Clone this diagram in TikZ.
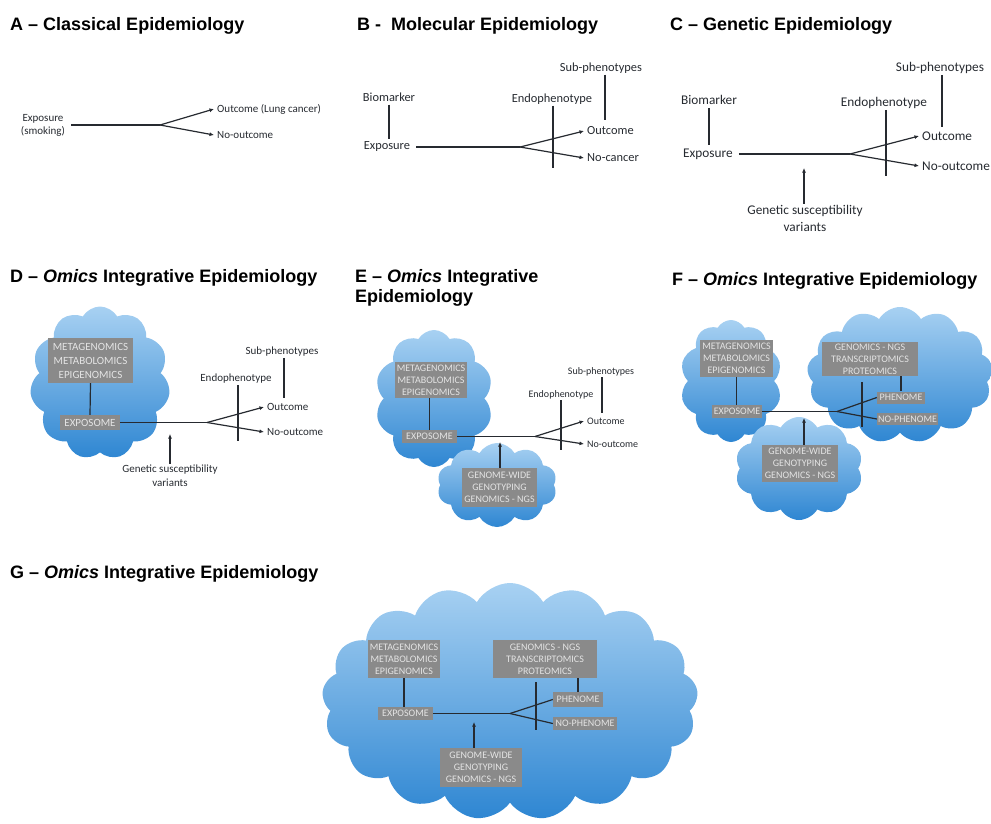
\documentclass[tikz,border=0pt]{standalone}
\usepackage{fontspec}
\setmainfont{Carlito}
\newfontfamily\titlefont{Liberation Sans}
\usetikzlibrary{arrows.meta,shapes.symbols}
\definecolor{cloudtop}{HTML}{A8D1F2}
\definecolor{cloudbot}{HTML}{2E86D2}
\definecolor{boxgray}{HTML}{8A8A8A}
\definecolor{boxtext}{HTML}{E4E4E4}
\definecolor{ink}{HTML}{262A30}
\begin{document}
\begin{tikzpicture}[x=1pt,y=-1pt,
  ttl/.style={anchor=base west,inner sep=0pt,font=\titlefont\bfseries\fontsize{18}{20}\selectfont},
  lbl/.style={inner xsep=3pt,inner ysep=1pt,text=ink},
  fa/.style={font=\fontsize{11}{13}\selectfont},
  fb/.style={font=\fontsize{12.4}{14}\selectfont},
  fc/.style={font=\fontsize{13.3}{17}\selectfont},
  fd/.style={font=\fontsize{11}{14}\selectfont},
  fe/.style={font=\fontsize{10}{12}\selectfont},
  conn/.style={draw=ink,line width=1.2pt},
  arr/.style={conn,-{Latex[length=4.5pt,width=4pt]}},
  puff/.style={cloud,cloud puffs=#1,cloud puff arc=120,cloud ignores aspect,inner sep=0pt,top color=cloudtop,bottom color=cloudbot,draw=none},
  gbox/.style={fill=boxgray,text=boxtext,inner sep=0pt,align=center},
]
\useasboundingbox (0,0) rectangle (991,823);

% ---------------- A
\node[ttl] (ta) at (10,30.5) {A – Classical Epidemiology};
\node[lbl,fa,align=center] (aexp) at (43,125) {Exposure\\(smoking)};
\coordinate (abr) at (160,125);
\node[lbl,fa,anchor=west] (aout) at (214,109) {Outcome (Lung cancer)};
\node[lbl,fa,anchor=west] (ano) at (214,135) {No-outcome};
\draw[conn,shorten <=3pt] (aexp.east) -- (abr);
\draw[arr] (abr) -- (aout.west);
\draw[arr] (abr) -- (ano.west);

% ---------------- B
\node[ttl] (tb) at (357,30.5) {B -\ \ Molecular Epidemiology};
\node[lbl,fb] (bsub) at (601,68) {Sub-phenotypes};
\node[lbl,fb] (bbio) at (389,97) {Biomarker};
\node[lbl,fb] (bexp) at (387,147) {Exposure};
\node[lbl,fb] (bendo) at (552,99) {Endophenotype};
\node[lbl,fb,anchor=west] (bout) at (584,131) {Outcome};
\node[lbl,fb,anchor=west] (bno) at (584,158) {No-cancer};
\coordinate (bbr) at (520,147);
\coordinate (bendoend) at (553,168);
\coordinate (bsubend) at (605,120);
\draw[conn,shorten <=2pt,shorten >=2pt] (bbio.south) -- (bbio.south |- bexp.north);
\draw[conn,shorten <=3pt] (bexp.east) -- (bbr);
\draw[arr] (bbr) -- (bout.west);
\draw[arr] (bbr) -- (bno.west);
\draw[conn] (bendo.south -| bendoend) -- (bendoend);
\draw[conn] (bsub.south -| bsubend) -- (bsubend);

% ---------------- C
\node[ttl] (tc) at (670,30.5) {C – Genetic Epidemiology};
\node[lbl,fc] (csub) at (940,68) {Sub-phenotypes};
\node[lbl,fc] (cbio) at (709,100) {Biomarker};
\node[lbl,fc] (cexp) at (708,154) {Exposure};
\node[lbl,fc] (cendo) at (884,103) {Endophenotype};
\node[lbl,fc,anchor=west] (cout) at (919,136) {Outcome};
\node[lbl,fc,anchor=west] (cno) at (919,166) {No-outcome};
\node[lbl,fc,align=center] (cgen) at (805,218) {Genetic susceptibility\\variants};
\coordinate (cbr) at (850,154);
\coordinate (cendoend) at (886,176);
\coordinate (csubend) at (942,127);
\coordinate (carrtip) at (804,168);
\draw[conn,shorten <=2pt,shorten >=2pt] (cbio.south) -- (cbio.south |- cexp.north);
\draw[conn,shorten <=3pt] (cexp.east) -- (cbr);
\draw[arr] (cbr) -- (cout.west);
\draw[arr] (cbr) -- (cno.west);
\draw[conn] (cendo.south -| cendoend) -- (cendoend);
\draw[conn] (csub.south -| csubend) -- (csubend);
\draw[arr] (cgen.north -| carrtip) -- (carrtip);

% ---------------- D
\node[ttl] (td) at (10,282) {D – \textit{Omics} Integrative Epidemiology};
\node[puff=11,minimum width=140pt,minimum height=153pt] (dcl) at (100,383) {};
\node[gbox,fd,minimum width=85pt,minimum height=45pt] (dbox) at (90.5,360.5) {METAGENOMICS\\METABOLOMICS\\EPIGENOMICS};
\node[gbox,fd,minimum width=60pt,minimum height=15pt] (dexpo) at (90,422.5) {EXPOSOME};
\node[lbl,fd,anchor=west] (dout) at (264,407) {Outcome};
\node[lbl,fd,anchor=west] (dno) at (264,432) {No-outcome};
\node[lbl,fd] (dendo) at (236,379) {Endophenotype};
\node[lbl,fd] (dsub) at (282,352) {Sub-phenotypes};
\node[lbl,fd,align=center] (dgen) at (170,476) {Genetic susceptibility\\variants};
\coordinate (dbr) at (207,422.5);
\coordinate (dendoend) at (238,441);
\coordinate (dsubend) at (284,398);
\coordinate (darrtip) at (170,434);
\draw[conn] (dbox.south) -- (dexpo.north);
\draw[conn] (dexpo.east) -- (dbr);
\draw[arr] (dbr) -- (dout.west);
\draw[arr] (dbr) -- (dno.west);
\draw[conn] (dendo.south -| dendoend) -- (dendoend);
\draw[conn] (dsub.south -| dsubend) -- (dsubend);
\draw[arr] (dgen.north -| darrtip) -- (darrtip);

% ---------------- E
\node[ttl,anchor=north west,align=left] (te) at (355,269) {E – \textit{Omics} Integrative\\Epidemiology};
\node[puff=10,minimum width=118pt,minimum height=137pt] (ecl1) at (434,398.5) {};
\node[puff=10,minimum width=120pt,minimum height=84pt] (ecl2) at (497,485) {};
\node[gbox,fe,minimum width=72pt,minimum height=36pt] (ebox1) at (431,380) {METAGENOMICS\\METABOLOMICS\\EPIGENOMICS};
\node[gbox,fe,minimum width=55pt,minimum height=13pt] (eexpo) at (429.5,436.5) {EXPOSOME};
\node[gbox,fe,minimum width=75pt,minimum height=39pt] (ebox2) at (499.5,487.5) {GENOME-WIDE\\GENOTYPING\\GENOMICS - NGS};
\node[lbl,fe,anchor=west] (eout) at (584,421) {Outcome};
\node[lbl,fe,anchor=west] (eno) at (584,444) {No-outcome};
\node[lbl,fe] (eendo) at (561,395) {Endophenotype};
\node[lbl,fe] (esub) at (601,372) {Sub-phenotypes};
\coordinate (ebr) at (535,436.5);
\coordinate (eendoend) at (561,450);
\coordinate (esubend) at (602,413);
\coordinate (earrtip) at (500,442);
\draw[conn] (ebox1.south -| eexpo.north) -- (eexpo.north);
\draw[conn] (eexpo.east) -- (ebr);
\draw[arr] (ebr) -- (eout.west);
\draw[arr] (ebr) -- (eno.west);
\draw[conn] (eendo.south -| eendoend) -- (eendoend);
\draw[conn] (esub.south -| esubend) -- (esubend);
\draw[arr] (ebox2.north -| earrtip) -- (earrtip);

% ---------------- F
\node[ttl] (tf) at (672,285) {F – \textit{Omics} Integrative Epidemiology};
\node[puff=10,minimum width=102pt,minimum height=122pt] (fcl1) at (731,381) {};
\node[puff=13,minimum width=186pt,minimum height=136pt] (fcl2) at (900,375) {};
\node[puff=10,minimum width=128pt,minimum height=103pt] (fcl3) at (799,468.5) {};
\node[gbox,fe,minimum width=73pt,minimum height=37pt] (fbox1) at (736.5,358.5) {METAGENOMICS\\METABOLOMICS\\EPIGENOMICS};
\node[gbox,fe,minimum width=50pt,minimum height=13pt] (fexpo) at (737,411.5) {EXPOSOME};
\node[gbox,fe,minimum width=96pt,minimum height=34pt] (fbox2) at (870,359) {GENOMICS - NGS\\TRANSCRIPTOMICS\\PROTEOMICS};
\node[gbox,fe,minimum width=48pt,minimum height=12pt] (fphen) at (901,397.5) {PHENOME};
\node[gbox,fe,minimum width=61pt,minimum height=12pt] (fnoph) at (907.5,419) {NO-PHENOME};
\node[gbox,fe,minimum width=76pt,minimum height=37pt] (fbox3) at (800,463.5) {GENOME-WIDE\\GENOTYPING\\GENOMICS - NGS};
\coordinate (fbr) at (837,411.5);
\coordinate (fbar1) at (862,382);
\coordinate (fbar2) at (862,427);
\coordinate (farrtip) at (804,418);
\draw[conn] (fbox1.south) -- (fbox1.south |- fexpo.north);
\draw[conn] (fexpo.east) -- (fbr);
\draw[conn] (fbr) -- (fphen.west);
\draw[conn] (fbr) -- (fnoph.west);
\draw[conn] (fbar1) -- (fbar2);
\draw[conn] (fphen.north |- fbox2.south) -- (fphen.north);
\draw[arr] (fbox3.north -| farrtip) -- (farrtip);

% ---------------- G
\node[ttl] (tg) at (10,578) {G – \textit{Omics} Integrative Epidemiology};
\node[puff=17,minimum width=376pt,minimum height=237pt] (gcl) at (510,701.5) {};
\node[gbox,fe,minimum width=72pt,minimum height=38pt] (gbox1) at (404,659) {METAGENOMICS\\METABOLOMICS\\EPIGENOMICS};
\node[gbox,fe,minimum width=55pt,minimum height=13pt] (gexpo) at (405.5,713.5) {EXPOSOME};
\node[gbox,fe,minimum width=104pt,minimum height=38pt] (gbox2) at (545,659) {GENOMICS - NGS\\TRANSCRIPTOMICS\\PROTEOMICS};
\node[gbox,fe,minimum width=50pt,minimum height=15pt] (gphen) at (578,699.5) {PHENOME};
\node[gbox,fe,minimum width=64pt,minimum height=13pt] (gnoph) at (585,723.5) {NO-PHENOME};
\node[gbox,fe,minimum width=82pt,minimum height=39pt] (gbox3) at (481,767.5) {GENOME-WIDE\\GENOTYPING\\GENOMICS - NGS};
\coordinate (gbr) at (510,713.5);
\coordinate (gbar1) at (536,682);
\coordinate (gbar2) at (536,730);
\coordinate (garrtip) at (474,722);
\draw[conn] (gbox1.south) -- (gbox1.south |- gexpo.north);
\draw[conn] (gexpo.east) -- (gbr);
\draw[conn] (gbr) -- (gphen.west);
\draw[conn] (gbr) -- (gnoph.west);
\draw[conn] (gbar1) -- (gbar2);
\draw[conn] (gphen.north |- gbox2.south) -- (gphen.north);
\draw[arr] (gbox3.north -| garrtip) -- (garrtip);
\end{tikzpicture}
\end{document}
